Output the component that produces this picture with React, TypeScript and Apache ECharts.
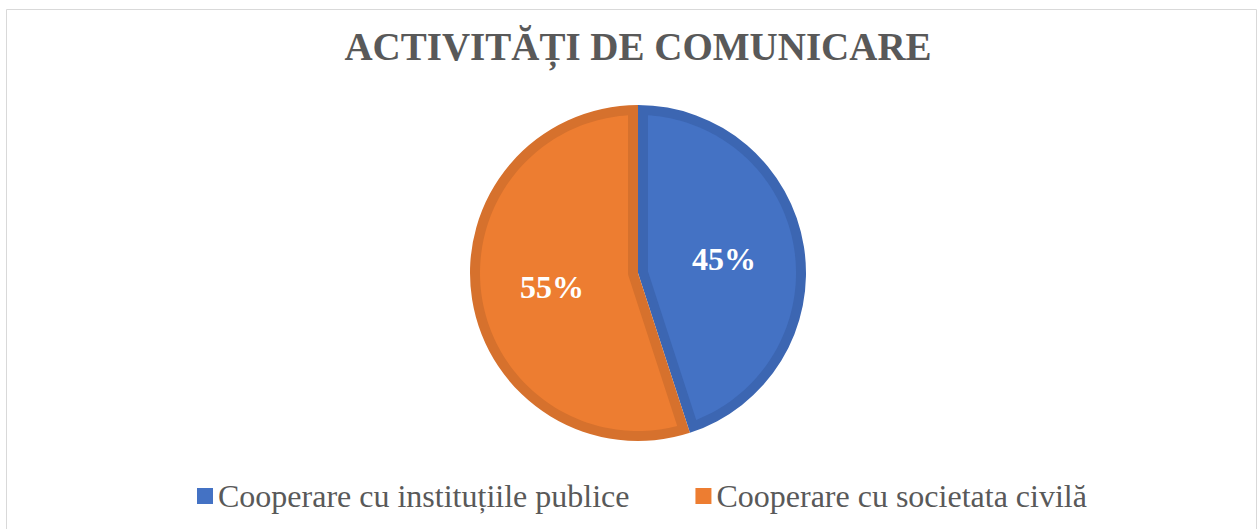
import React, { useEffect, useRef } from 'react';
import * as echarts from 'echarts';

const titleText = 'ACTIVITĂȚI DE COMUNICARE';
const categories = ['Cooperare cu instituțiile publice', 'Cooperare cu societata civilă'];
const values = [45, 55];
const fillColors = ['#4472C4', '#ED7D31'];
const edgeColors = ['#3C66B2', '#D6712D'];

const FONT = 'Liberation Serif';

export default function App() {
  const ref = useRef<HTMLDivElement>(null);

  useEffect(() => {
    const chart = echarts.init(ref.current as HTMLDivElement, null, { renderer: 'svg' });
    const CX = 638;
    const CY = 273;
    const R = 168;
    const BAND = 10;

    const total = values.reduce((a, b) => a + b, 0);
    let acc = 0;
    const sliceData = values.map((v, i) => {
      const s = (acc / total) * 100;
      acc += v;
      return [s, (acc / total) * 100, i];
    });

    const renderItem = (params: any, api: any) => {
      const s = api.value(0);
      const e = api.value(1);
      const idx = api.value(2);
      const c = api.coord([0, s]);
      const p1 = api.coord([1, s]);
      const p2 = api.coord([1, e]);
      const rad = Math.hypot(p1[0] - c[0], p1[1] - c[1]);
      const a1 = Math.atan2(p1[1] - c[1], p1[0] - c[0]);
      let th = Math.atan2(p2[1] - c[1], p2[0] - c[0]) - a1;
      while (th <= 0) th += Math.PI * 2;
      const a2 = a1 + th;
      const Ri = rad - BAND;
      const da = Math.asin(BAND / Ri);
      const pts: number[][] = [];
      const N = 120;
      const b1 = a1 + da;
      const b2 = a2 - da;
      for (let k = 0; k <= N; k++) {
        const ang = b1 + ((b2 - b1) * k) / N;
        pts.push([c[0] + Ri * Math.cos(ang), c[1] + Ri * Math.sin(ang)]);
      }
      if (th <= Math.PI) {
        const m = a1 + th / 2;
        const dd = BAND / Math.sin(th / 2);
        pts.push([c[0] + dd * Math.cos(m), c[1] + dd * Math.sin(m)]);
      } else {
        const from = a2 - Math.PI / 2;
        const to = a1 + Math.PI / 2;
        for (let k = 0; k <= 16; k++) {
          const ang = from + ((to - from) * k) / 16;
          pts.push([c[0] + BAND * Math.cos(ang), c[1] + BAND * Math.sin(ang)]);
        }
      }
      return {
        type: 'group',
        children: [
          {
            type: 'sector',
            shape: { cx: c[0], cy: c[1], r: rad, r0: 0, startAngle: a1, endAngle: a2, clockwise: true },
            style: { fill: edgeColors[idx] },
          },
          {
            type: 'polygon',
            shape: { points: pts },
            style: { fill: fillColors[idx] },
          },
        ],
      };
    };

    chart.setOption({
      animation: false,
      backgroundColor: '#ffffff',
      title: {
        text: titleText,
        left: 638,
        textAlign: 'center',
        top: 27,
        padding: 0,
        textStyle: { fontFamily: FONT, fontWeight: 'bold', fontSize: 39, color: '#595959' },
      },
      legend: {
        left: 197,
        top: 480,
        padding: 0,
        icon: 'rect',
        itemWidth: 16,
        itemHeight: 16,
        itemGap: 66,
        textStyle: { fontFamily: FONT, fontSize: 32, color: '#595959' },
        data: categories.map((n, i) => ({
          name: n,
          itemStyle: { color: fillColors[i] },
          textStyle: { fontFamily: FONT, fontSize: 32, color: '#595959' },
        })),
      },
      polar: { center: [CX, CY], radius: R },
      angleAxis: { type: 'value', min: 0, max: 100, startAngle: 90, clockwise: true, show: false },
      radiusAxis: { type: 'value', min: 0, max: 1, show: false },
      graphic: [
        {
          type: 'rect',
          silent: true,
          z: -10,
          shape: { x: 6.5, y: 9.5, width: 1250, height: 530 },
          style: { fill: 'none', stroke: '#D9D9D9', lineWidth: 1 },
        },
      ],
      series: [
        {
          type: 'custom',
          name: 'slices',
          coordinateSystem: 'polar',
          silent: true,
          z: 2,
          data: sliceData,
          renderItem,
        },
        {
          type: 'pie',
          name: 'labels',
          center: [CX, CY],
          radius: R,
          startAngle: 90,
          clockwise: true,
          silent: true,
          z: 5,
          itemStyle: { color: 'rgba(0,0,0,0)', borderWidth: 0 },
          label: {
            show: true,
            position: 'inside',
            formatter: (p: any) => Math.round(p.percent) + '%',
            color: '#ffffff',
            fontFamily: FONT,
            fontWeight: 'bold',
            fontSize: 32,
          },
          labelLine: { show: false },
          data: categories.map((n, i) => ({ name: n, value: values[i] })),
        },
      ],
    });

    return () => {
      chart.dispose();
    };
  }, []);

  return (
    <div
      ref={ref}
      style={{ position: 'fixed', left: 0, top: 0, width: 1257, height: 529, background: '#ffffff' }}
    />
  );
}
